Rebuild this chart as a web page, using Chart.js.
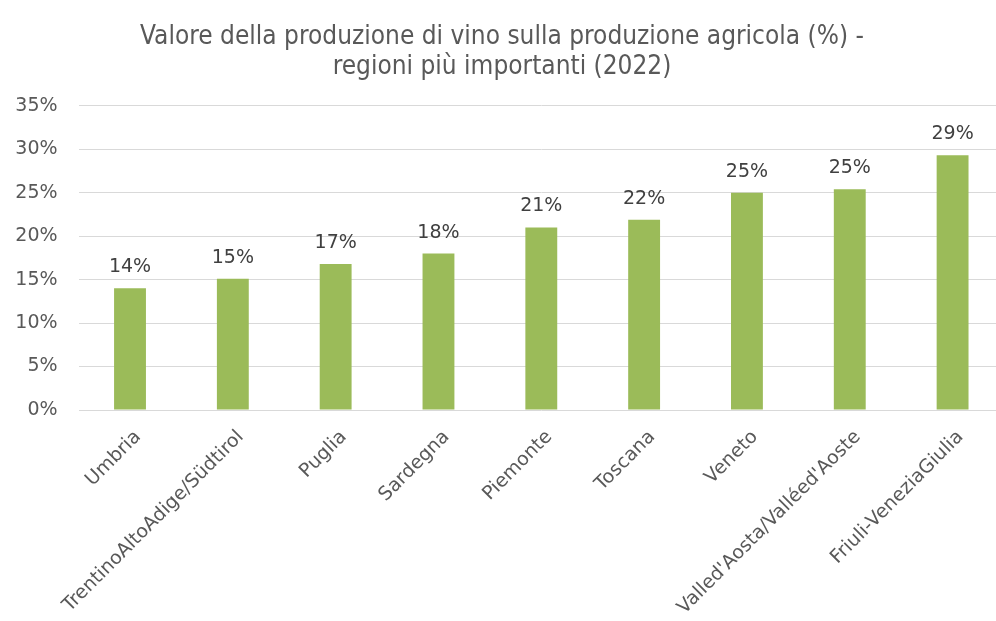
<!DOCTYPE html>
<html>
<head>
<meta charset="utf-8">
<script src="https://cdn.jsdelivr.net/npm/chart.js@4"></script>
<style>
  html, body { margin: 0; padding: 0; background: #fff; overflow: hidden; }
  #wrap { position: relative; width: 1010px; height: 621px; }
</style>
</head>
<body>
<div id="wrap"><canvas id="vino"></canvas></div>
<script>
  // data
  const regioni = [
    'Umbria',
    'TrentinoAltoAdige/Südtirol',
    'Puglia',
    'Sardegna',
    'Piemonte',
    'Toscana',
    'Veneto',
    "Valled'Aosta/Valléed'Aoste",
    'Friuli-VeneziaGiulia'
  ];
  const quotaVino = [14.0, 15.1, 16.8, 18.0, 21.0, 21.9, 25.0, 25.4, 29.3];
  const yTicks = [0, 5, 10, 15, 20, 25, 30, 35];
  const titolo = ['Valore della produzione di vino sulla produzione agricola (%) -', 'regioni più importanti (2022)'];

  const GREEN = '#9BBB59';
  const TEXT = '#595959';
  const GRID = '#D9D9D9';

  // value labels above the bars
  const barLabels = {
    id: 'barLabels',
    afterDatasetsDraw(chart) {
      const ctx = chart.ctx;
      const meta = chart.getDatasetMeta(0);
      ctx.save();
      ctx.font = '19px "DejaVu Sans"';
      ctx.fillStyle = '#404040';
      ctx.textAlign = 'center';
      ctx.textBaseline = 'alphabetic';
      meta.data.forEach((bar, i) => {
        ctx.fillText(Math.round(quotaVino[i]) + '%', bar.x, bar.y - 16);
      });
      ctx.restore();
    }
  };

  new Chart(document.getElementById('vino'), {
    type: 'bar',
    data: {
      labels: regioni,
      datasets: [{
        data: quotaVino,
        backgroundColor: GREEN,
        borderWidth: 0,
        barPercentage: 0.31,
        categoryPercentage: 1
      }]
    },
    options: {
      responsive: true,
      maintainAspectRatio: false,
      animation: false,
      layout: { padding: { left: 0, right: 6, top: 0, bottom: 0 } },
      plugins: {
        legend: { display: false },
        tooltip: { enabled: false },
        title: {
          display: true,
          text: titolo,
          color: TEXT,
          font: { family: '"DejaVu Sans Condensed", "Liberation Sans Narrow", Roboto', size: 26, weight: 'normal', lineHeight: 1.15 },
          padding: { top: 22, bottom: 24 }
        }
      },
      scales: {
        x: {
          grid: { display: false },
          border: { display: false },
          ticks: {
            color: TEXT,
            font: { family: '"DejaVu Sans"', size: 19 },
            minRotation: 45,
            maxRotation: 45,
            autoSkip: false,
            padding: 8,
            labelOffset: 8
          },
          afterFit(scale) { scale.height = 211; }
        },
        y: {
          min: 0,
          max: 35,
          afterBuildTicks(scale) { scale.ticks = yTicks.map(v => ({ value: v })); },
          grid: { color: GRID, lineWidth: 1, drawTicks: false },
          border: { display: false },
          ticks: {
            color: TEXT,
            font: { family: '"DejaVu Sans"', size: 19 },
            padding: 21,
            callback: v => v + '%'
          },
          afterFit(scale) { scale.width = 78.6; }
        }
      }
    },
    plugins: [barLabels]
  });
</script>
</body>
</html>
